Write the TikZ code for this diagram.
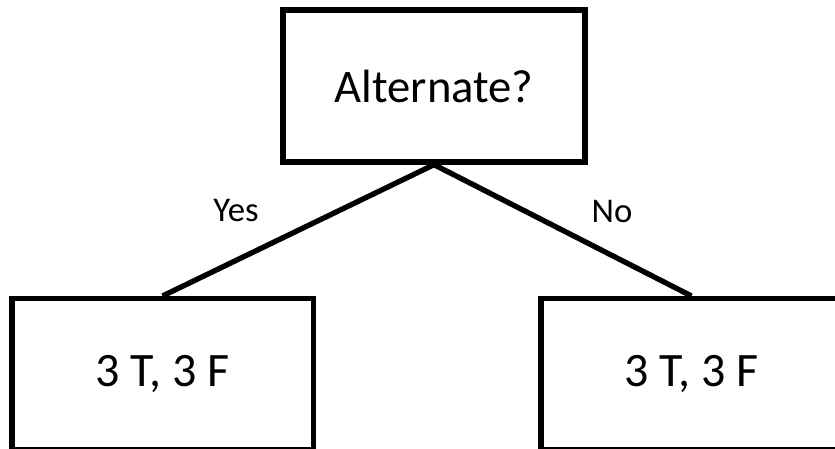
\documentclass[tikz,border=0pt]{standalone}
\usepackage{fontspec}
\setmainfont{Carlito}
\begin{document}
\begin{tikzpicture}[x=0.75pt,y=-0.75pt,
  box/.style={draw=black,line width=4pt,fill=white,inner sep=0pt,
    minimum width=226pt,minimum height=113pt,font=\fontsize{36}{42}\selectfont},
  conn/.style={line width=4pt,black},
  lbl/.style={inner sep=0pt,font=\fontsize{26}{31}\selectfont}]
\useasboundingbox (0,0) rectangle (835,449);
\clip (0,0) rectangle (835,449);
\node[box,minimum width=226.5pt,minimum height=114pt,font=\fontsize{35}{42}\selectfont] (top) at (434,86) {Alternate?};
\node[box] (L) at (162.5,374) {3 T, 3 F};
\node[box] (R) at (691.5,374) {3 T, 3 F};
\draw[conn] (top.south) -- (L.north);
\draw[conn] (top.south) -- (R.north);
\node[lbl] (yes) at (236,211) {Yes};
\node[lbl] (no) at (612,211) {No};
\end{tikzpicture}
\end{document}
